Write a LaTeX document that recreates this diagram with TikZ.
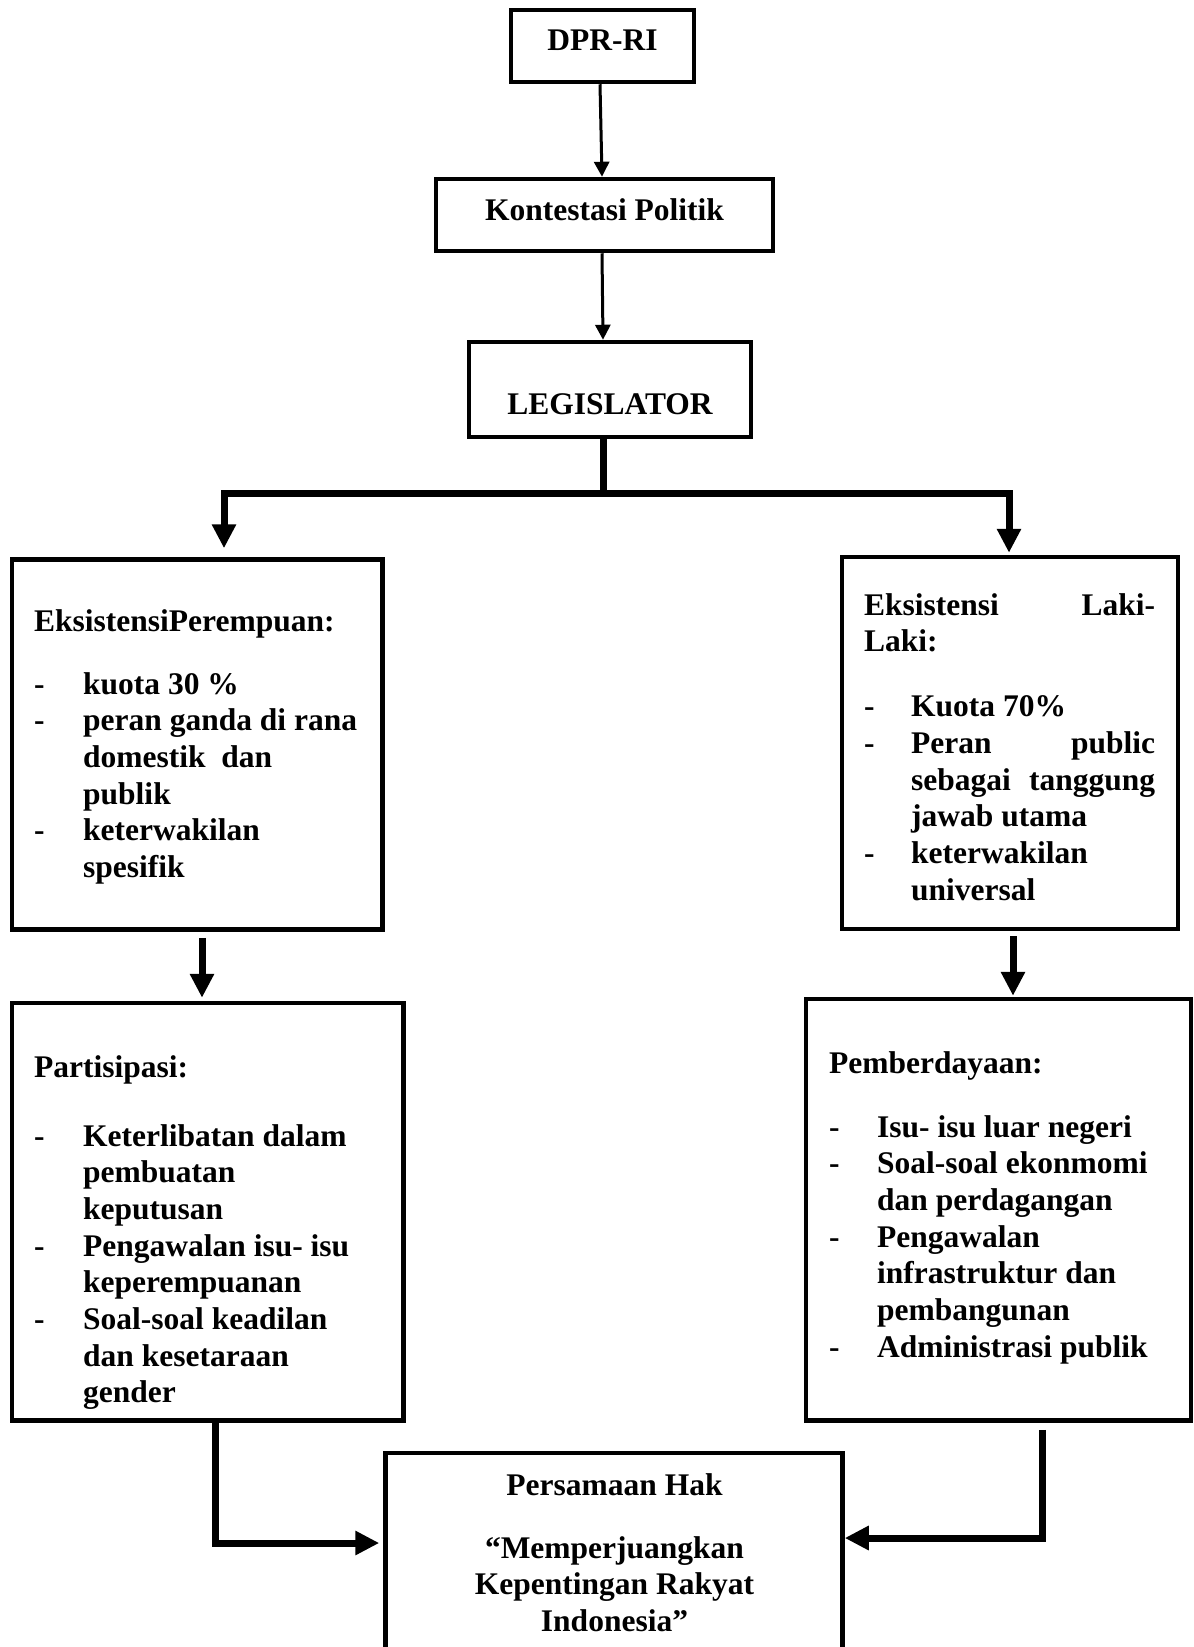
\documentclass[tikz,border=0pt]{standalone}
\usepackage{fontspec}
\setmainfont{Liberation Serif}
\usepackage{array}
\usetikzlibrary{arrows.meta}

\begin{document}
\begin{tikzpicture}[
  x=1pt, y=-1pt,
  box/.style={draw, line width=4.5pt, inner sep=0pt},
  lbl/.style={font=\bfseries\fontsize{31.5}{36.7}\selectfont, anchor=base, inner sep=0pt},
  lst/.style={font=\bfseries\fontsize{31.5}{36.7}\selectfont, anchor=base west, inner sep=0pt},
  thin/.style={line width=3pt, -{Triangle[length=15pt,width=15pt]}},
  bar/.style={line width=7pt},
  fat/.style={line width=7pt, -{Triangle[length=24pt,width=23pt]}},
]
\useasboundingbox (0,0) rectangle (1194,1647);
% boxes
\node[box, minimum width=183pt, minimum height=72pt] (dpr) at (602.5,46) {};
\node[box, minimum width=337pt, minimum height=72pt] (kon) at (604.5,215) {};
\node[box, minimum width=282pt, minimum height=95pt] (leg) at (610,389.5) {};
\node[box, minimum width=370.5pt, minimum height=370pt] (per) at (197.25,744.5) {};
\node[box, minimum width=336pt, minimum height=372pt] (lak) at (1010,743) {};
\node[box, minimum width=391.5pt, minimum height=417.5pt] (par) at (207.75,1211.75) {};
\node[box, minimum width=385pt, minimum height=421.5pt] (pem) at (998.5,1209.75) {};
\node[box, minimum width=457pt, minimum height=202pt] (hak) at (614,1554) {};
% texts
\node[lbl] (dpr-t) at (602.5,50) {DPR-RI};
\node[lbl] (kon-t) at (604.5,220) {Kontestasi Politik};
\node[lbl] (leg-t) at (610,414) {LEGISLATOR};
\node[lst] (per-t) at (34,631) {\begin{tabular}[t]{@{}p{49pt}@{}l@{}}
  \multicolumn{2}{@{}l}{EksistensiPerempuan:}\\[26.3pt]
  - & kuota 30 \%\\
  - & peran ganda di rana\\
    & domestik\ \ dan\\
    & publik\\
  - & keterwakilan\\
    & spesifik
\end{tabular}};
\node[lst] (lak-t) at (864,615) {\begin{tabular}[t]{@{}p{47pt}@{}l@{}}
  \multicolumn{2}{@{}l}{\makebox[291pt][s]{Eksistensi\hfill Laki-}}\\
  \multicolumn{2}{@{}l}{Laki:}\\[28.3pt]
  - & Kuota 70\%\\
  - & \makebox[244pt][s]{Peran\hfill public}\\
    & \makebox[244pt][s]{sebagai\hfill tanggung}\\
    & jawab utama\\
  - & keterwakilan\\
    & universal
\end{tabular}};
\node[lst] (par-t) at (34,1077) {\begin{tabular}[t]{@{}p{49pt}@{}l@{}}
  \multicolumn{2}{@{}l}{Partisipasi:}\\[32.3pt]
  - & Keterlibatan dalam\\
    & pembuatan\\
    & keputusan\\
  - & Pengawalan isu- isu\\
    & keperempuanan\\
  - & Soal-soal keadilan\\
    & dan kesetaraan\\
    & gender
\end{tabular}};
\node[lst] (pem-t) at (829,1073) {\begin{tabular}[t]{@{}p{48pt}@{}l@{}}
  \multicolumn{2}{@{}l}{Pemberdayaan:}\\[27.3pt]
  - & Isu- isu luar negeri\\
  - & Soal-soal ekonmomi\\
    & dan perdagangan\\
  - & Pengawalan\\
    & infrastruktur dan\\
    & pembangunan\\
  - & Administrasi publik
\end{tabular}};
\node[lbl] (hak-t) at (614.5,1495) {\begin{tabular}[t]{@{}c@{}}
  Persamaan Hak\\[26.3pt]
  “Memperjuangkan\\
  Kepentingan Rakyat\\
  Indonesia”
\end{tabular}};
% connectors
\coordinate (fork) at (603,493);
\draw[thin] (600,0 |- dpr.south) -- (602,0 |- kon.north);
\draw[thin] (602,0 |- kon.south) -- (603,0 |- leg.north);
\draw[bar] (fork |- leg.south) -- (fork);
\draw[fat, shorten >=9pt] (fork) -| (224,0 |- per.north);
\draw[fat, shorten >=2pt] (fork) -| (1009,0 |- lak.north);
\draw[fat, shorten <=6pt, shorten >=3pt] (202,0 |- per.south) -- (202,0 |- par.north);
\draw[fat, shorten <=5pt, shorten >=1pt] (1013,0 |- lak.south) -- (1013,0 |- pem.north);
\draw[fat, shorten >=4pt] (215,0 |- par.south) |- (hak.west |- 0,1543);
\draw[fat, shorten <=7pt] (1042,0 |- pem.south) |- (hak.east |- 0,1538);
\end{tikzpicture}
\end{document}
